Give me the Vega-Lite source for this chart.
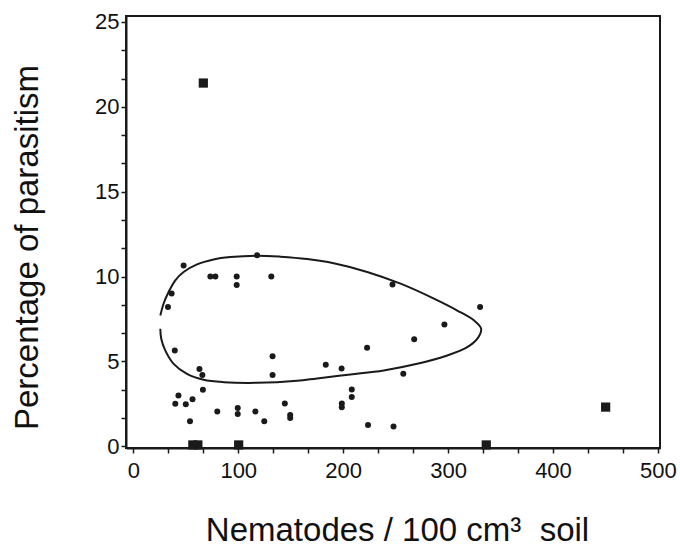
{
  "$schema": "https://vega.github.io/schema/vega-lite/v6.json",
  "autosize": {"type": "none"},
  "padding": {"left": 126, "top": 16, "right": 20, "bottom": 103},
  "width": 534,
  "height": 432,
  "background": "white",
  "datasets": {
    "curve": [
      {"i": 1, "x": 25.7, "y": 7.7},
      {"i": 2, "x": 28.8, "y": 8.4},
      {"i": 3, "x": 33.6, "y": 9.09},
      {"i": 4, "x": 40, "y": 9.78},
      {"i": 5, "x": 47.9, "y": 10.27},
      {"i": 6, "x": 60.7, "y": 10.72},
      {"i": 7, "x": 76.5, "y": 11.01},
      {"i": 8, "x": 92.5, "y": 11.15},
      {"i": 9, "x": 117.9, "y": 11.23},
      {"i": 10, "x": 140.2, "y": 11.17},
      {"i": 11, "x": 165.6, "y": 11.03},
      {"i": 12, "x": 191, "y": 10.78},
      {"i": 13, "x": 222.9, "y": 10.27},
      {"i": 14, "x": 254.7, "y": 9.58},
      {"i": 15, "x": 286.5, "y": 8.7},
      {"i": 16, "x": 308.8, "y": 8.0},
      {"i": 17, "x": 324.6, "y": 7.42},
      {"i": 18, "x": 331.5, "y": 6.93},
      {"i": 19, "x": 327.9, "y": 6.34},
      {"i": 20, "x": 318.3, "y": 5.84},
      {"i": 21, "x": 299.2, "y": 5.35},
      {"i": 22, "x": 270.6, "y": 4.86},
      {"i": 23, "x": 238.7, "y": 4.47},
      {"i": 24, "x": 207, "y": 4.23},
      {"i": 25, "x": 175.2, "y": 4.0},
      {"i": 26, "x": 156.1, "y": 3.86},
      {"i": 27, "x": 117.9, "y": 3.74},
      {"i": 28, "x": 86.1, "y": 3.78},
      {"i": 29, "x": 67, "y": 3.92},
      {"i": 30, "x": 51.1, "y": 4.27},
      {"i": 31, "x": 38.4, "y": 4.86},
      {"i": 32, "x": 30.4, "y": 5.65},
      {"i": 33, "x": 26.6, "y": 6.34},
      {"i": 34, "x": 25.7, "y": 6.93}
    ],
    "dots": [
      {"x": 47.9, "y": 10.65},
      {"x": 117.9, "y": 11.25},
      {"x": 73.4, "y": 10.0},
      {"x": 78.2, "y": 10.0},
      {"x": 98.5, "y": 10.0},
      {"x": 98.5, "y": 9.5},
      {"x": 131.5, "y": 10.0},
      {"x": 36.5, "y": 9.0},
      {"x": 33, "y": 8.2},
      {"x": 39.5, "y": 5.65},
      {"x": 132.7, "y": 5.3},
      {"x": 183.4, "y": 4.8},
      {"x": 63, "y": 4.55},
      {"x": 65.8, "y": 4.2},
      {"x": 132.7, "y": 4.2},
      {"x": 66.3, "y": 3.33},
      {"x": 43, "y": 3.0},
      {"x": 40, "y": 2.5},
      {"x": 50, "y": 2.48},
      {"x": 56.4, "y": 2.77},
      {"x": 54, "y": 1.47},
      {"x": 80, "y": 2.05},
      {"x": 99.5, "y": 2.25},
      {"x": 99.5, "y": 1.9},
      {"x": 116.3, "y": 2.05},
      {"x": 124.8, "y": 1.47},
      {"x": 144.4, "y": 2.52},
      {"x": 149.5, "y": 1.85},
      {"x": 149.5, "y": 1.66},
      {"x": 247, "y": 9.53},
      {"x": 330.5, "y": 8.2},
      {"x": 296.5, "y": 7.17},
      {"x": 267.7, "y": 6.3},
      {"x": 222.8, "y": 5.8},
      {"x": 198.5, "y": 4.58},
      {"x": 257.3, "y": 4.27},
      {"x": 208.2, "y": 3.35},
      {"x": 208.2, "y": 2.9},
      {"x": 198.7, "y": 2.52},
      {"x": 198.7, "y": 2.3},
      {"x": 223.7, "y": 1.25},
      {"x": 248, "y": 1.17}
    ],
    "squares": [
      {"x": 66.7, "y": 21.4},
      {"x": 450.2, "y": 2.31},
      {"x": 56.7, "y": 0.08},
      {"x": 61.5, "y": 0.08},
      {"x": 100.4, "y": 0.08},
      {"x": 336.4, "y": 0.08}
    ]
  },
  "layer": [
    {
      "data": {"name": "curve"},
      "mark": {"type": "line", "interpolate": "catmull-rom", "color": "#1a1a1a", "strokeWidth": 2},
      "encoding": {
        "x": {"field": "x", "type": "quantitative"},
        "y": {"field": "y", "type": "quantitative"},
        "order": {"field": "i", "type": "quantitative"}
      }
    },
    {
      "data": {"name": "dots"},
      "mark": {"type": "point", "shape": "circle", "filled": true, "color": "#1a1a1a", "opacity": 1, "size": 36},
      "encoding": {
        "x": {"field": "x", "type": "quantitative"},
        "y": {"field": "y", "type": "quantitative"}
      }
    },
    {
      "data": {"name": "squares"},
      "mark": {"type": "point", "shape": "square", "filled": true, "color": "#1a1a1a", "opacity": 1, "size": 85},
      "encoding": {
        "x": {"field": "x", "type": "quantitative"},
        "y": {"field": "y", "type": "quantitative"}
      }
    }
  ],
  "encoding": {
    "x": {
      "field": "x",
      "type": "quantitative",
      "scale": {"domain": [-7, 502], "nice": false, "zero": false},
      "axis": {
        "title": "Nematodes / 100 cm³\u00a0 soil",
        "values": [0, 33.3333, 66.6667, 100, 133.3333, 166.6667, 200, 233.3333, 266.6667, 300, 333.3333, 366.6667, 400, 433.3333, 466.6667, 500],
        "labelExpr": "datum.value % 100 === 0 ? format(datum.value, 'd') : ''",
        "titleX": 271,
        "titleY": 92,
        "titleBaseline": "alphabetic",
        "labelPadding": 7
      }
    },
    "y": {
      "field": "y",
      "type": "quantitative",
      "scale": {"domain": [-0.1, 25.35], "nice": false, "zero": false},
      "axis": {
        "title": "Percentage of parasitism",
        "values": [0, 1.6667, 3.3333, 5, 6.6667, 8.3333, 10, 11.6667, 13.3333, 15, 16.6667, 18.3333, 20, 21.6667, 23.3333, 25],
        "labelExpr": "datum.value % 5 === 0 ? format(datum.value, 'd') : ''",
        "titleX": -89,
        "titleY": 231,
        "titleBaseline": "alphabetic",
        "labelPadding": 2
      }
    }
  },
  "config": {
    "view": {"stroke": "#1a1a1a", "strokeWidth": 2},
    "axis": {
      "grid": false,
      "domainColor": "#1a1a1a",
      "domainWidth": 2,
      "tickColor": "#1a1a1a",
      "tickWidth": 1.5,
      "tickSize": 5,
      "labelFont": "Liberation Sans",
      "labelFontSize": 22,
      "labelColor": "#111111",
      "labelOverlap": false,
      "labelBound": false,
      "labelFlush": false,
      "titleFont": "Liberation Sans",
      "titleFontSize": 33,
      "titleFontWeight": "normal",
      "titleColor": "#111111"
    }
  }
}
